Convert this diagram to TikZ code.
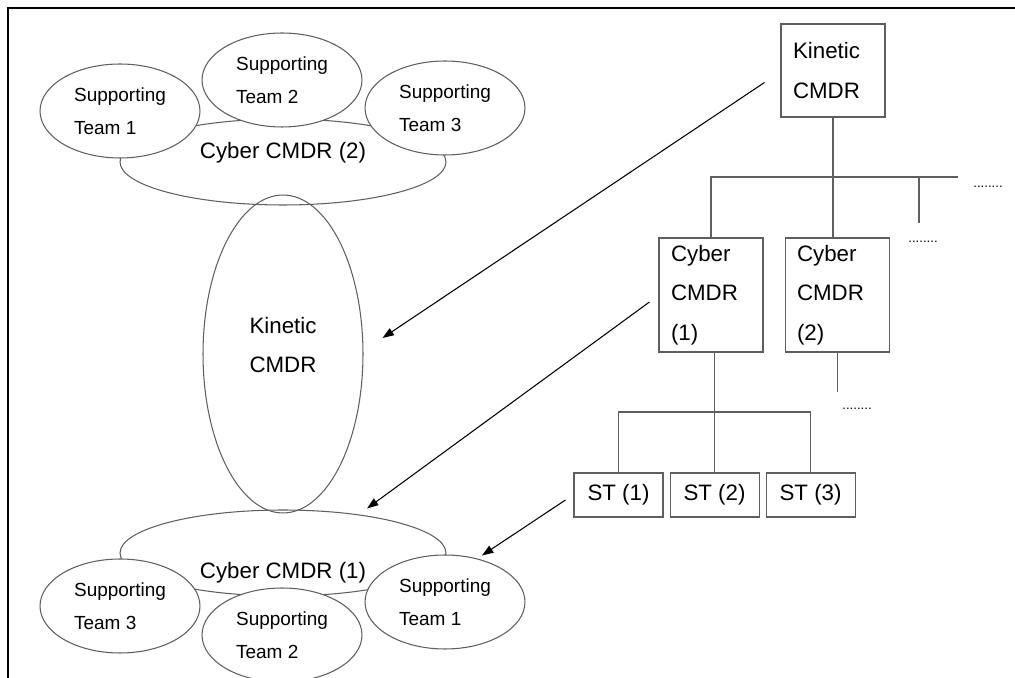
\documentclass[tikz,border=0pt]{standalone}
\usepackage{fontspec}
\setmainfont{Liberation Sans}
\usetikzlibrary{arrows.meta,positioning,shapes.geometric}
\definecolor{linegray}{RGB}{95,95,95}
\newcommand{\teamsize}{\fontsize{10.8}{18.5}\selectfont}
\newcommand{\lblsize}{\fontsize{12.7}{22.5}\selectfont}
\newcommand{\dotsize}{\fontsize{7.5}{9}\selectfont}

\begin{document}
\begin{tikzpicture}[
  x=0.02cm, y=-0.02cm,
  team/.style={ellipse, draw=linegray, line width=0.6pt, fill=white, inner sep=0pt, minimum width=3.2cm, minimum height=1.88cm, align=left, font=\teamsize},
  cyberell/.style={ellipse, draw=linegray, line width=0.6pt, inner sep=0pt, minimum width=6.52cm, minimum height=1.72cm},
  cmdbox/.style={draw=linegray, line width=0.6pt, inner xsep=0.24cm, inner ysep=0pt, text width=1.6cm, align=left, font=\lblsize},
  stbox/.style={draw=linegray, line width=0.6pt, inner sep=0pt, minimum width=1.78cm, minimum height=0.88cm, font=\lblsize},
  link/.style={draw=linegray, line width=0.6pt},
  dotlbl/.style={inner sep=0pt, font=\dotsize},
  arr/.style={-{Triangle[length=6.5pt,width=4.6pt]}, line width=0.6pt}
]
\useasboundingbox (0,0) rectangle (1015,678);
\draw[line width=1.2pt] (8,678) -- (8,8) -- (1015,8);

% nested view
\node[cyberell, label={[yshift=5pt, font=\lblsize]center:Cyber CMDR (2)}] (cyb2) at (283,162) {};
\node[cyberell, label={[yshift=-11pt, font=\lblsize]center:Cyber CMDR (1)}] (cyb1) at (283,553) {};
\node[ellipse, draw=linegray, line width=0.6pt, inner sep=0pt, minimum width=3.2cm, minimum height=6.36cm,
  label={[yshift=5pt, font=\lblsize, align=center]center:Kinetic\\CMDR}] (kin) at (283,354) {};

\node[team] (tt1) at (120,111) {Supporting\\Team 1};
\node[team] (tt2) at (282,80) {Supporting\\Team 2};
\node[team] (tt3) at (445,108) {Supporting\\Team 3};
\node[team] (bt3) at (120,606) {Supporting\\Team 3};
\node[team] (bt2) at (282,635) {Supporting\\Team 2};
\node[team] (bt1) at (445,602) {Supporting\\Team 1};

% hierarchy
\node[cmdbox, minimum height=1.86cm] (kbox) at (833,70.5) {Kinetic\\CMDR};
\node[cmdbox, minimum height=2.28cm] (c1box) at (711,295) {Cyber\\CMDR\\(1)};
\node[cmdbox, minimum height=2.28cm, right=0.42cm of c1box] (c2box) {Cyber\\CMDR\\(2)};
\node[stbox] (st1) at (618.5,495) {ST (1)};
\node[stbox, right=0.12cm of st1] (st2) {ST (2)};
\node[stbox, right=0.12cm of st2] (st3) {ST (3)};

\coordinate (kbarend) at (958,177);
\coordinate (br3) at (919,223);
\coordinate (stbar) at (714,412);
\node[dotlbl] (dots1) at (988,187) {........};
\node[dotlbl] (dots2) at (923,242) {........};
\node[dotlbl] (dots3) at (857,409) {........};

\draw[link] (kbox.south) -- (kbox.south |- c2box.north);
\draw[link] (c1box.north) |- (kbarend);
\draw[link] (br3) -- (br3 |- kbarend);
\draw[link] (st2.north) -- (st2.north |- c1box.south);
\draw[link] (st1.north) |- (stbar) -| (st3.north);
\draw[link] (c2box.south) -- ++(0,39);

\draw[arr] ([shift={(-16,12)}]kbox.west) -- ([shift={(19,-16)}]kin.east);
\draw[arr] ([shift={(-9,7)}]c1box.west) -- ([shift={(84,-1)}]cyb1.north);
\draw[arr] ([shift={(-8,5)}]st1.west) -- ([shift={(37,1)}]bt1.north);
\end{tikzpicture}
\end{document}
